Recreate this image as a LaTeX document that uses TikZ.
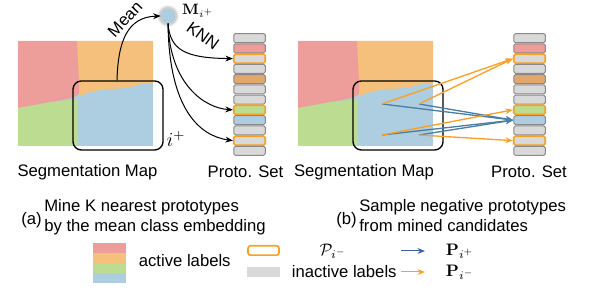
\documentclass[tikz,border=0pt]{standalone}
\usepackage[no-math]{fontspec}
\setmainfont{Liberation Sans}
\usepackage{amsmath,amssymb}
\usetikzlibrary{arrows.meta,positioning,calc}
\definecolor{segred}{HTML}{EE9E9A}
\definecolor{segorange}{HTML}{F4C07B}
\definecolor{seggreen}{HTML}{BCDC92}
\definecolor{segblue}{HTML}{ADCDE1}
\definecolor{protogray}{HTML}{D9D9D9}
\definecolor{protoline}{HTML}{8A8A8A}
\definecolor{protobrown}{HTML}{E1A76C}
\definecolor{negorange}{HTML}{FAA023}
\definecolor{posblue}{HTML}{4C7FA8}
\definecolor{legblue}{HTML}{3B62AA}

\begin{document}
\begin{tikzpicture}[x=0.6pt,y=-0.6pt,>={Stealth[length=4.5pt,width=3.5pt]}]
    \tikzset{cell/.style={draw=protoline,line width=0.6pt,rounded corners=1pt,minimum width=18.9pt,minimum height=5.5pt,inner sep=0pt},
      negcell/.style={cell,draw=negorange,line width=1pt},
      selbox/.style={draw,line width=0.8pt,rounded corners=5pt,minimum width=54pt,minimum height=41.4pt,inner sep=0pt},
      knn/.style={->,line width=0.6pt},
      posarrow/.style={->,line width=0.8pt,posblue},
      negarrow/.style={->,line width=0.8pt,negorange}}
    \useasboundingbox (0,0) rectangle (598,302);
    % segmentation maps and prototype sets
    \foreach \p/\dx in {a/0,b/280}{
      \begin{scope}[shift={(\dx,0)}]
        \fill[segblue] (18,41) rectangle (153,146);
        \fill[segorange] (77,41) -- (153,41) -- (153,83) -- (143,83) .. controls (137,86) and (128,88) .. (110,89) .. controls (95,90) and (85,93) .. (79,97) -- cycle;
        \fill[seggreen] (18,108) -- (50,102) -- (78,99) -- (78,146) -- (18,146) -- cycle;
        \fill[segred] (18,41) -- (77,41) .. controls (78,70) and (80,88) .. (79,93) .. controls (78,97) and (70,99) .. (50,102) -- (18,108) -- cycle;
        \node[selbox] (box\p) at (118,115.5) {};
        \foreach \c/\s [count=\k] in {protogray/cell,segred/cell,protogray/negcell,protogray/cell,protobrown/cell,protogray/cell,protogray/cell,seggreen/negcell,segblue/cell,protogray/cell,protogray/negcell,protogray/cell}
          \node[\s,fill=\c] (p\p\k) at (249.5,{33+(\k-0.5)*10.25}) {};
      \end{scope}
    }
    \node at (87.5,172) {Segmentation Map};
    \node at (245.5,172) {Proto. Set};
    \node at (364,172) {Segmentation Map};
    \node at (529,172) {Proto. Set};
    % (a) mean embedding and KNN
    \foreach \r/\o in {11/0.05,10/0.07,9/0.09}
      \fill[black,opacity=\o] (168,16) circle (\r);
    \node[circle,fill=segblue,minimum size=8.4pt,inner sep=0pt] (mean) at (168,16) {};
    \node[font=\small] at (198,11) {$\mathbf{M}_{i^+}$};
    \draw[->,line width=0.6pt] ([xshift=-0.6pt]boxa.north) .. controls (118,42) and (127,17) .. (mean.west);
    \node[rotate=47] at (125,19) {Mean};
    \draw[knn] (mean.south) .. controls (170,50) and (185,58) .. (pa3.west);
    \draw[knn] (mean.south) .. controls (170,85) and (205,108) .. (pa8.west);
    \draw[knn] (mean.south) .. controls (169,110) and (200,136) .. (pa11.west);
    \node[rotate=-36] at (203,36) {KNN};
    \node[font=\large] at (176,139) {$i^+$};
    % (b) sampled negatives
    \coordinate (s1) at (382,104);
    \coordinate (s2) at (419,104);
    \coordinate (s3) at (382,135);
    \coordinate (s4) at (419,135);
    \foreach \s in {s1,s2,s3,s4}
      \draw[posarrow] (\s) -- (pb9.west);
    \draw[negarrow] (s1) -- (pb3.west);
    \draw[negarrow] (s2) -- (pb3.west);
    \draw[negarrow] (s3) -- (pb8.west);
    \draw[negarrow] (s4) -- (pb11.west);
    % captions
    \node[anchor=base west,inner sep=0pt] (taga) at (21,225) {(a)};
    \node[anchor=north west,inner sep=0pt,align=left] (capa) at (44,199) {Mine K nearest prototypes\\by the mean class embedding};
    \node[anchor=base west,inner sep=0pt] (tagb) at (336,225) {(b)};
    \node[anchor=north west,inner sep=0pt,align=left] (capb) at (359,199) {Sample negative prototypes\\from mined candidates};
    % legend
    \foreach \c [count=\k] in {segred,segorange,seggreen,segblue}
      \fill[\c] (93,{233+\k*10}) rectangle (126,{243+\k*10});
    \node[anchor=west] (active) at (133,261) {active labels};
    \node[draw=negorange,line width=1pt,rounded corners=1.5pt,minimum width=18.6pt,minimum height=5.6pt,inner sep=0pt] (negkey) at (263.5,250.5) {};
    \node at (333,251) {$\mathcal{P}_{i^-}$};
    \node[fill=protogray,minimum width=19.8pt,minimum height=6pt,inner sep=0pt] (graykey) at (263.5,272) {};
    \node[anchor=west] (inactive) at (286,272) {inactive labels};
    \coordinate (lb1) at (401,251);
    \coordinate (lb2) at (425,251);
    \coordinate (lo1) at (401,272);
    \coordinate (lo2) at (425,272);
    \draw[->,line width=0.6pt,legblue] (lb1) -- (lb2);
    \draw[->,line width=0.6pt,negorange] (lo1) -- (lo2);
    \node[anchor=west] at (440,251) {$\mathbf{P}_{i^+}$};
    \node[anchor=west] at (440,272) {$\mathbf{P}_{i^-}$};
  \end{tikzpicture}
\end{document}
